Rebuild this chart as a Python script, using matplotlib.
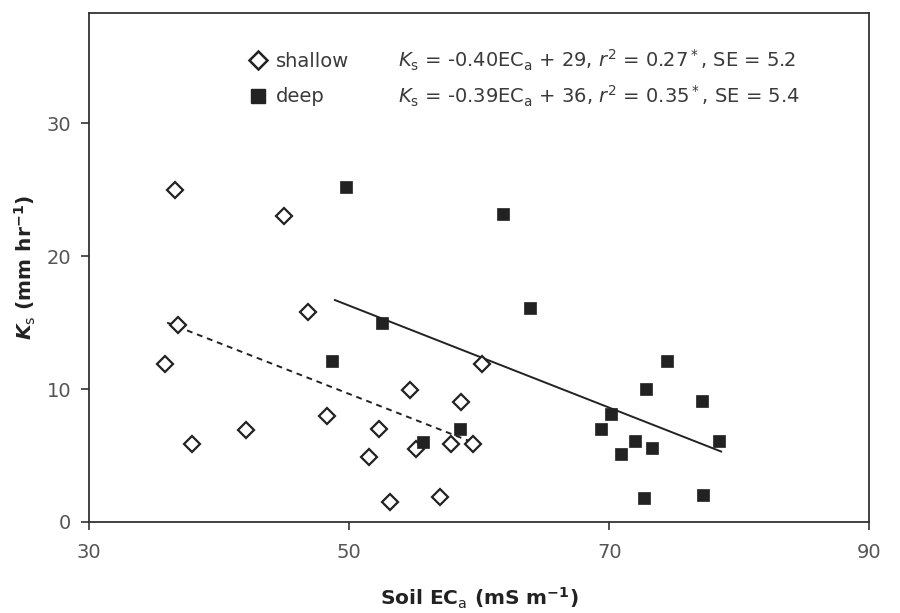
import matplotlib
matplotlib.use('Agg')
import matplotlib.pyplot as plt
from matplotlib.lines import Line2D

# values
shallow_ec = [36.6, 45.0, 46.8, 36.8, 35.8, 60.2, 54.7, 58.6, 48.3, 42.1,
              52.3, 37.9, 55.1, 57.8, 59.5, 51.5, 57.0, 53.1]
shallow_ks = [25.0, 23.0, 15.8, 14.8, 11.9, 11.9, 9.9, 9.0, 8.0, 6.9,
              7.0, 5.9, 5.5, 5.9, 5.9, 4.9, 1.9, 1.5]
deep_ec = [49.75, 52.5, 48.7, 58.5, 55.7, 61.8, 63.9, 74.4, 72.8, 77.1,
           70.1, 69.4, 78.4, 72.0, 73.3, 70.9, 72.7, 77.2]
deep_ks = [25.2, 15.0, 12.1, 7.0, 6.0, 23.2, 16.1, 12.1, 10.0, 9.1,
           8.1, 7.0, 6.1, 6.1, 5.6, 5.1, 1.8, 2.0]

# fitted lines (end points as drawn)
shallow_fit_ec = [36.0, 60.0]
shallow_fit_ks = [15.0, 5.8]
deep_fit_ec = [48.9, 78.6]
deep_fit_ks = [16.7, 5.3]

x_ticks = [30, 50, 70, 90]
y_ticks = [0, 10, 20, 30]

labels = ['shallow', 'deep']
equations = [
    r'$K_\mathrm{s}$ = -0.40EC$_\mathrm{a}$ + 29, $r^2$ = 0.27$^*$, SE = 5.2',
    r'$K_\mathrm{s}$ = -0.39EC$_\mathrm{a}$ + 36, $r^2$ = 0.35$^*$, SE = 5.4',
]

plt.rcParams['font.family'] = 'DejaVu Sans'
plt.rcParams['mathtext.fontset'] = 'dejavusans'

ink = '#222222'
grey = '#555555'

fig = plt.figure(figsize=(9, 6.13), dpi=100)
ax = fig.add_axes([0.099, 0.1485, 0.867, 0.8303])

ax.plot(shallow_fit_ec, shallow_fit_ks, color=ink, linewidth=1.4,
        linestyle=(0, (3, 2.5)), zorder=2)
ax.plot(deep_fit_ec, deep_fit_ks, color=ink, linewidth=1.4, zorder=2)

ax.plot(shallow_ec, shallow_ks, linestyle='none', marker='D', ms=8.5,
        mfc='white', mec=ink, mew=1.6, zorder=3)
ax.plot(deep_ec, deep_ks, linestyle='none', marker='s', ms=9.3,
        mfc=ink, mec=ink, mew=0.5, zorder=3)

ax.set_xlim(30, 90)
ax.set_ylim(0, 38.3)
ax.set_xticks(x_ticks)
ax.set_yticks(y_ticks)
ax.tick_params(axis='both', direction='out', length=6, width=1.2,
               color='#333333', labelsize=14, labelcolor=grey)
ax.tick_params(axis='x', pad=9)
ax.tick_params(axis='y', pad=7)
for sp in ax.spines.values():
    sp.set_linewidth(1.3)
    sp.set_color('#333333')

ax.set_xlabel(r'Soil EC$_\mathrm{a}$ (mS m$^\mathbf{-1}$)', fontsize=14.5,
              fontweight='bold', color=ink, labelpad=17)
ax.set_ylabel(r'$\mathbfit{K}_\mathrm{s}$ (mm hr$^\mathbf{-1}$)', fontsize=14.5,
              fontweight='bold', color=ink, labelpad=6)

handles = [
    Line2D([], [], linestyle='none', marker='D', ms=9, mfc='white',
           mec=ink, mew=1.8),
    Line2D([], [], linestyle='none', marker='s', ms=10.5, mfc=ink, mec=ink),
]
leg = ax.legend(handles, labels, loc='upper left',
                bbox_to_anchor=(0.207, 0.924), frameon=False, fontsize=14,
                handlelength=0.8, handletextpad=0.5, labelspacing=0.86,
                borderpad=0, borderaxespad=0)
for t in leg.get_texts():
    t.set_color('#3a3a3a')

for eq, yy in zip(equations, [0.906, 0.837]):
    ax.text(0.396, yy, eq, transform=ax.transAxes, fontsize=14,
            color='#3a3a3a', ha='left', va='center')

fig.savefig('out.png', dpi=100, facecolor='white')
